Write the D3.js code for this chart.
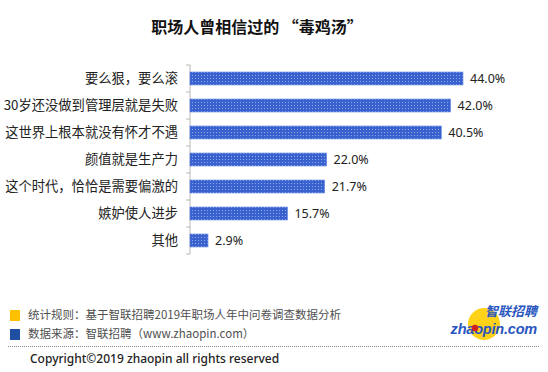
<!DOCTYPE html>
<html>
<head>
<meta charset="utf-8">
<script src="https://cdn.jsdelivr.net/npm/d3@7"></script>
<style>
  body { margin: 0; background: #fff; }
  svg text { font-family: "Noto Sans CJK SC", "Noto Sans", sans-serif; }
</style>
</head>
<body>
<div id="chart"></div>
<script>
const categories = ["要么狠，要么滚", "30岁还没做到管理层就是失败", "这世界上根本就没有怀才不遇",
  "颜值就是生产力", "这个时代，恰恰是需要偏激的", "嫉妒使人进步", "其他"];
const values = [44.0, 42.0, 40.5, 22.0, 21.7, 15.7, 2.9];
const title = "职场人曾相信过的 “毒鸡汤”";
const notes = ["统计规则：基于智联招聘2019年职场人年中问卷调查数据分析", "数据来源：智联招聘（www.zhaopin.com）"];
const noteColors = ["#ffc000", "#1f4fa0"];
const copyright = "Copyright©2019 zhaopin all rights reserved";

const width = 548, height = 372;
const margin = {top: 65, left: 190, bottom: 118};

const data = categories.map((c, i) => ({name: c, value: values[i]}));

const x = d3.scaleLinear()
    .domain([0, 44])
    .range([margin.left, 463]);

const y = d3.scaleBand()
    .domain(categories)
    .range([margin.top, height - margin.bottom])
    .paddingInner(0.52)
    .paddingOuter(0.26);

const svg = d3.create("svg")
    .attr("width", width)
    .attr("height", height)
    .attr("viewBox", [0, 0, width, height]);

// dotted fill like the original picture
const pat = svg.append("defs").append("pattern")
    .attr("id", "dots")
    .attr("width", 3).attr("height", 3)
    .attr("patternUnits", "userSpaceOnUse");
pat.append("rect").attr("width", 3).attr("height", 3).attr("fill", "#3962cf");
pat.append("rect").attr("width", 1).attr("height", 1).attr("fill", "#8fa9ea");

svg.append("text")
    .attr("x", 257)
    .attr("y", 33)
    .attr("text-anchor", "middle")
    .attr("font-size", 16)
    .attr("font-weight", "bold")
    .attr("fill", "#111")
    .text(title);

// axis: line plus ticks between the bands
const axis = svg.append("g").attr("stroke", "#b8b8b8");
axis.append("line")
    .attr("x1", margin.left).attr("x2", margin.left)
    .attr("y1", y.range()[0]).attr("y2", y.range()[1]);
axis.selectAll(".tick")
  .data(d3.range(categories.length + 1))
  .join("line")
    .attr("x1", margin.left - 4).attr("x2", margin.left)
    .attr("y1", i => y.range()[0] + i * y.step())
    .attr("y2", i => y.range()[0] + i * y.step());

svg.append("g")
    .attr("fill", "url(#dots)")
    .attr("stroke", "#5b80dc")
    .attr("stroke-width", 0.6)
  .selectAll("rect")
  .data(data)
  .join("rect")
    .attr("x", x(0))
    .attr("y", d => y(d.name))
    .attr("width", d => x(d.value) - x(0))
    .attr("height", y.bandwidth());

svg.append("g")
    .attr("font-size", 13.3)
    .attr("fill", "#222")
    .attr("text-anchor", "end")
  .selectAll("text")
  .data(data)
  .join("text")
    .attr("x", margin.left - 12)
    .attr("y", d => y(d.name) + y.bandwidth() / 2)
    .attr("dy", "0.35em")
    .text(d => d.name);

svg.append("g")
    .attr("font-size", 12.5)
    .attr("fill", "#222")
  .selectAll("text")
  .data(data)
  .join("text")
    .attr("x", d => x(d.value) + 7)
    .attr("y", d => y(d.name) + y.bandwidth() / 2)
    .attr("dy", "0.35em")
    .style("font-family", "'Noto Sans', sans-serif")
    .text(d => d.value.toFixed(1) + "%");

// footer notes
const foot = svg.append("g");
notes.forEach((t, i) => {
  const yy = 315 + i * 19;
  foot.append("rect")
      .attr("x", 10).attr("y", yy - 5)
      .attr("width", 10).attr("height", 11)
      .attr("fill", noteColors[i]);
  foot.append("text")
      .attr("x", 28).attr("y", yy)
      .attr("dy", "0.35em")
      .attr("font-size", 11.5)
      .attr("fill", "#505050")
      .text(t);
});

foot.append("line")
    .attr("x1", 8).attr("x2", 540)
    .attr("y1", 346.5).attr("y2", 346.5)
    .attr("stroke", "#888")
    .attr("stroke-dasharray", "1,1");

foot.append("text")
    .attr("x", 30).attr("y", 363)
    .attr("font-size", 12)
    .attr("font-weight", 500)
    .attr("fill", "#222")
    .style("font-family", "'Noto Sans', sans-serif")
    .text(copyright);

// logo
const logo = svg.append("g");
logo.append("circle").attr("cx", 484).attr("cy", 324).attr("r", 16).attr("fill", "#ffd21a");
logo.append("text")
    .attr("x", 537).attr("y", 316)
    .attr("text-anchor", "end")
    .attr("font-size", 13)
    .attr("font-weight", "bold")
    .attr("font-style", "italic")
    .attr("fill", "#2a56c0")
    .text("智联招聘");
logo.append("text")
    .attr("x", 537).attr("y", 334)
    .attr("text-anchor", "end")
    .attr("font-size", 14.5)
    .attr("font-weight", "bold")
    .attr("font-style", "italic")
    .attr("letter-spacing", -0.2)
    .attr("fill", "#2a56c0")
    .style("font-family", "'Liberation Sans', Arial, sans-serif")
    .text("zhaopin.com");
logo.append("circle").attr("cx", 475).attr("cy", 328).attr("r", 3.2).attr("fill", "#d42020");

d3.select("#chart").append(() => svg.node());
</script>
</body>
</html>
